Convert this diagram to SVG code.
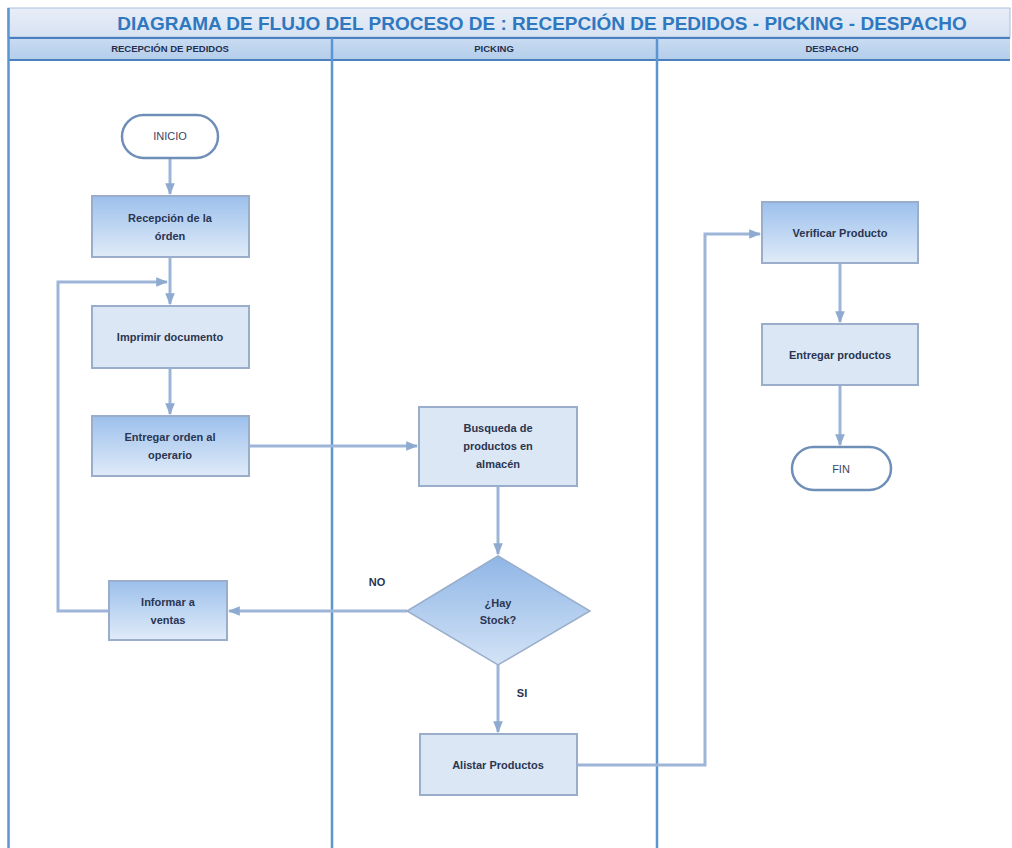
<svg xmlns="http://www.w3.org/2000/svg" width="1012" height="848" viewBox="0 0 1012 848">
<defs>
<linearGradient id="gTitle" x1="0" y1="0" x2="0" y2="1"><stop offset="0" stop-color="#e8eef8"/><stop offset="1" stop-color="#d6e2f2"/></linearGradient>
<linearGradient id="gHead" x1="0" y1="0" x2="0" y2="1"><stop offset="0" stop-color="#c9dcf2"/><stop offset="1" stop-color="#b3cdea"/></linearGradient>
<linearGradient id="gDark" x1="0" y1="0" x2="0" y2="1"><stop offset="0" stop-color="#9cc0ec"/><stop offset="1" stop-color="#e0ebf8"/></linearGradient>
<linearGradient id="gDia" x1="0" y1="0" x2="0" y2="1"><stop offset="0" stop-color="#8fb6e6"/><stop offset="1" stop-color="#d3e3f6"/></linearGradient>
<marker id="arr" viewBox="0 0 10 10" refX="9" refY="5" markerWidth="4" markerHeight="4" orient="auto"><path d="M0,1 L10,5 L0,9 z" fill="#8eaad0"/></marker>
<style>
.box{stroke:#9aaecb;stroke-width:2}
.light{fill:#dce7f5}
.dark{fill:url(#gDark)}
.term{fill:#ffffff;stroke:#6f8fb8;stroke-width:2.5}
.t{font-family:"Liberation Sans",Arial,sans-serif;font-weight:bold;font-size:11px;fill:#2a3550;text-anchor:middle}
.tn{font-family:"Liberation Sans",Arial,sans-serif;font-size:11px;fill:#3a4560;text-anchor:middle}
.h{font-family:"Liberation Sans",Arial,sans-serif;font-weight:bold;font-size:9.5px;fill:#253050;text-anchor:middle}
.c{fill:none;stroke:#9db6d8;stroke-width:3}
.lane{stroke:#5b95d3;stroke-width:2.5}
</style>
</defs>
<rect x="0" y="0" width="1012" height="848" fill="#ffffff"/>
<g id="frame">
<rect x="8" y="8" width="1002" height="29" fill="url(#gTitle)" stroke="#a9bfdc" stroke-width="1"/>
<text x="542" y="30" font-family="'Liberation Sans',Arial,sans-serif" font-weight="bold" font-size="19" fill="#2f78c0" text-anchor="middle">DIAGRAMA DE FLUJO DEL PROCESO DE : RECEPCIÓN DE PEDIDOS - PICKING - DESPACHO</text>
<rect x="8" y="38" width="1002" height="22" fill="url(#gHead)"/>
<line x1="8" y1="38" x2="1010" y2="38" stroke="#4a80bf" stroke-width="2"/>
<line x1="8" y1="60" x2="1010" y2="60" stroke="#4a80bf" stroke-width="2"/>
<line class="lane" x1="8.5" y1="8" x2="8.5" y2="848"/>
<line class="lane" x1="332" y1="38" x2="332" y2="848"/>
<line class="lane" x1="657" y1="38" x2="657" y2="848"/>
<text class="h" x="170" y="52">RECEPCIÓN DE PEDIDOS</text>
<text class="h" x="494" y="52">PICKING</text>
<text class="h" x="832" y="52">DESPACHO</text>
</g>
<g id="connectors">
<path class="c" d="M170,158 V194" marker-end="url(#arr)"/>
<path class="c" d="M170,257 V304" marker-end="url(#arr)"/>
<path class="c" d="M108,611 H58 V282 H167" marker-end="url(#arr)"/>
<path class="c" d="M170,368 V414" marker-end="url(#arr)"/>
<path class="c" d="M249,446 H417" marker-end="url(#arr)"/>
<path class="c" d="M498,486 V554" marker-end="url(#arr)"/>
<path class="c" d="M407,611 H229" marker-end="url(#arr)"/>
<path class="c" d="M498,665 V732" marker-end="url(#arr)"/>
<path class="c" d="M577,765 H705 V234 H760" marker-end="url(#arr)"/>
<path class="c" d="M840,263 V322" marker-end="url(#arr)"/>
<path class="c" d="M840,385 V445" marker-end="url(#arr)"/>
<text class="t" x="377" y="586">NO</text>
<text class="t" x="522" y="697">SI</text>
</g>
<g id="inicio"><rect class="term" x="122" y="115" width="96" height="43" rx="21.5"/><text class="tn" x="170" y="140">INICIO</text></g>
<g id="recepcion"><rect class="box dark" x="92" y="196" width="157" height="61"/><text class="t" x="170" y="222">Recepción de la</text><text class="t" x="170" y="240">órden</text></g>
<g id="imprimir"><rect class="box light" x="92" y="306" width="157" height="62"/><text class="t" x="170" y="341">Imprimir documento</text></g>
<g id="entregar-orden"><rect class="box dark" x="92" y="416" width="157" height="60"/><text class="t" x="170" y="441">Entregar orden al</text><text class="t" x="170" y="459">operario</text></g>
<g id="informar"><rect class="box dark" x="109" y="581" width="118" height="59"/><text class="t" x="168" y="606">Informar a</text><text class="t" x="168" y="624">ventas</text></g>
<g id="busqueda"><rect class="box light" x="419" y="407" width="158" height="79"/><text class="t" x="498" y="432">Busqueda de</text><text class="t" x="498" y="450">productos en</text><text class="t" x="498" y="468">almacén</text></g>
<g id="stock"><polygon points="498,556 590,611 498,665 407,611" fill="url(#gDia)" stroke="#9aaecb" stroke-width="1.5"/><text class="t" x="498" y="607">¿Hay</text><text class="t" x="498" y="624">Stock?</text></g>
<g id="alistar"><rect class="box light" x="420" y="734" width="157" height="61"/><text class="t" x="498" y="769">Alistar Productos</text></g>
<g id="verificar"><rect class="box dark" x="762" y="202" width="156" height="61"/><text class="t" x="840" y="237">Verificar Producto</text></g>
<g id="entregar-productos"><rect class="box light" x="762" y="324" width="156" height="61"/><text class="t" x="840" y="359">Entregar productos</text></g>
<g id="fin"><rect class="term" x="792" y="447" width="99" height="43" rx="21.5"/><text class="tn" x="841" y="473">FIN</text></g>
</svg>
